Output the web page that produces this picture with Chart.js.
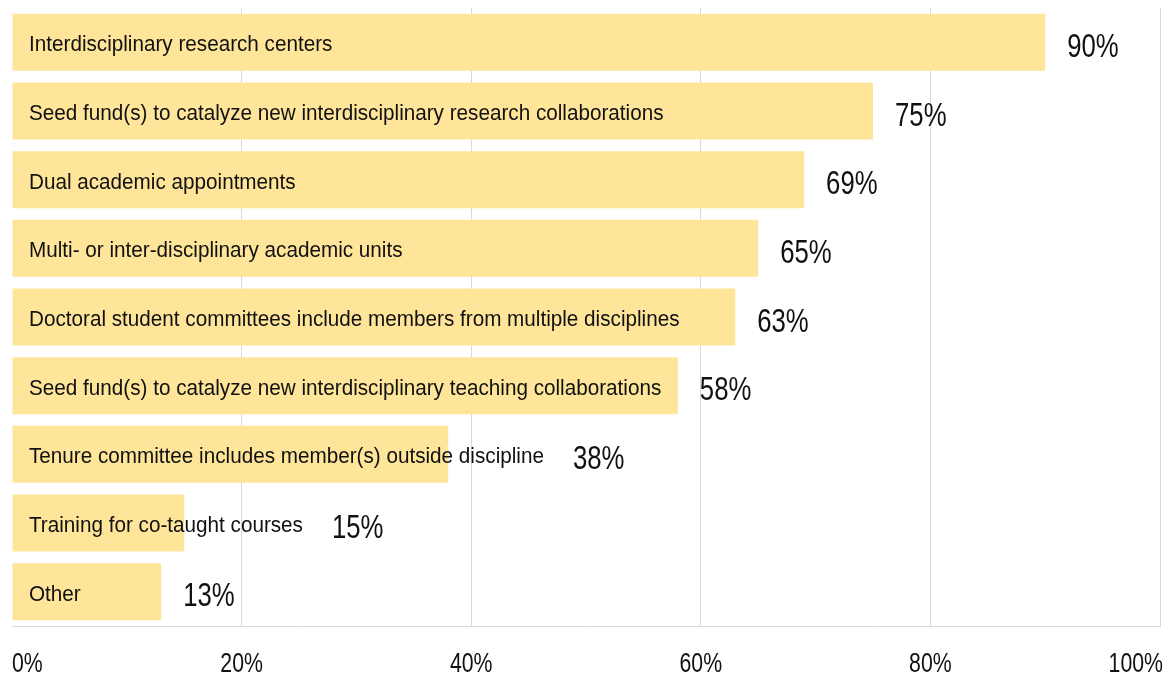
<!DOCTYPE html>
<html>
<head>
<meta charset="utf-8">
<script src="https://cdn.jsdelivr.net/npm/chart.js@4/dist/chart.umd.min.js"></script>
<style>
  html, body { margin: 0; padding: 0; background: #fff; }
  #wrap { width: 1176px; height: 673px; position: relative; }
</style>
</head>
<body>
<div id="wrap"><canvas id="barChart"></canvas></div>
<script>
const categories = [
    'Interdisciplinary research centers',
    'Seed fund(s) to catalyze new interdisciplinary research collaborations',
    'Dual academic appointments',
    'Multi- or inter-disciplinary academic units',
    'Doctoral student committees include members from multiple disciplines',
    'Seed fund(s) to catalyze new interdisciplinary teaching collaborations',
    'Tenure committee includes member(s) outside discipline',
    'Training for co-taught courses',
    'Other'
];
const values = [90, 75, 69, 65, 63, 58, 38, 15, 13];
const tickValues = [0, 20, 40, 60, 80, 100];

const FONT = '"Liberation Sans", Arial, sans-serif';

// write text squeezed horizontally, the original uses a narrow face
function narrowText(ctx, text, x, y, size, squeeze, align) {
    ctx.save();
    ctx.font = size + 'px ' + FONT;
    const w = ctx.measureText(text).width * squeeze;
    let x0 = x;
    if (align === 'center') x0 = x - w / 2;
    if (align === 'right') x0 = x - w;
    ctx.translate(x0, y);
    ctx.scale(squeeze, 1);
    ctx.fillText(text, 0, 0);
    ctx.restore();
    return w;
}

// category name inside each bar, percentage after it, and the x tick labels
const barText = {
    id: 'barText',
    afterDatasetsDraw(chart) {
        const ctx = chart.ctx;
        const xs = chart.scales.x;
        const meta = chart.getDatasetMeta(0);
        ctx.save();
        ctx.fillStyle = '#111';
        ctx.textBaseline = 'alphabetic';
        meta.data.forEach((bar, i) => {
            const left = xs.getPixelForValue(0) + 17;
            const w = narrowText(ctx, categories[i], left, bar.y + 9, 22, 0.94);
            const vx = Math.max(bar.x + 22, left + w + 29);
            narrowText(ctx, values[i] + '%', vx, bar.y + 14.5, 33, 0.78);
        });
        // tick labels: first and last kept inside the axis
        const n = xs.ticks.length;
        xs.ticks.forEach((t, i) => {
            const px = xs.getPixelForTick(i);
            const align = i === 0 ? 'left' : (i === n - 1 ? 'right' : 'center');
            const shift = i === n - 1 ? 3 : 0;
            narrowText(ctx, t.value + '%', px + shift, xs.bottom - 1, 28, 0.76, align);
        });
        ctx.restore();
    }
};

document.addEventListener('DOMContentLoaded', () => {
    const ctx = document.getElementById('barChart').getContext('2d');
    new Chart(ctx, {
        type: 'bar',
        data: {
            labels: categories,
            datasets: [{
                data: values,
                backgroundColor: '#FEE599',
                barPercentage: 0.83,
                categoryPercentage: 1
            }]
        },
        options: {
            indexAxis: 'y',
            responsive: true,
            maintainAspectRatio: false,
            animation: false,
            layout: { padding: { top: 8, left: 12, right: 16, bottom: 0 } },
            plugins: { legend: { display: false }, tooltip: { enabled: false } },
            scales: {
                x: {
                    min: 0,
                    max: 100,
                    afterBuildTicks: (axis) => { axis.ticks = tickValues.map(v => ({ value: v })); },
                    afterFit: (s) => {
                        s.height = 47;
                        s.paddingLeft = 0;
                        s.paddingRight = 0;
                    },
                    grid: {
                        color: (c) => c.tick && c.tick.value === 0 ? 'rgba(0,0,0,0)' : '#d9d9d9',
                        drawTicks: false
                    },
                    border: { display: true, color: '#d9d9d9' },
                    ticks: {
                        align: 'inner',
                        padding: 23,
                        color: 'rgba(0,0,0,0)',
                        font: { family: FONT, size: 22, lineHeight: 1 },
                        callback: (v) => v + '%'
                    }
                },
                y: { display: false }
            }
        },
        plugins: [barText]
    });
});
</script>
</body>
</html>
